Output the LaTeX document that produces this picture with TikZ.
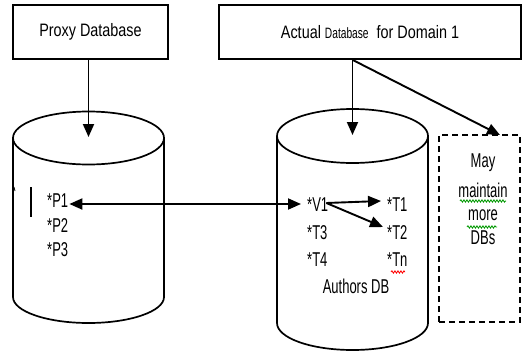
\documentclass[tikz,border=0pt]{standalone}
\usepackage{fontspec}
\setmainfont{Liberation Sans}
\usetikzlibrary{arrows.meta,decorations.pathmorphing,calc}
\newcommand{\nar}[1]{\scalebox{0.65}[1]{#1}}
\newcommand{\narb}[1]{\scalebox{0.8}[1]{#1}}
\begin{document}
\begin{tikzpicture}[x=1pt,y=-1pt,
  box/.style={draw, line width=1.7pt, inner sep=0pt, font=\fontsize{18}{18}\selectfont},
  dbox/.style={draw, line width=1.7pt, dash pattern=on 6pt off 4pt, inner sep=0pt},
  txt/.style={inner sep=0pt, font=\fontsize{20}{20}\selectfont, anchor=west},
  ctxt/.style={inner sep=0pt, font=\fontsize{20}{20}\selectfont},
  cyl/.style={line width=1.7pt},
  arr/.style={line width=1.9pt, -{Triangle[length=13pt,width=11pt]}},
  arrb/.style={line width=1.9pt, {Triangle[length=13pt,width=11pt]}-{Triangle[length=13pt,width=11pt]}},
  wavy/.style={decorate, decoration={snake, segment length=3pt, amplitude=1.2pt}, line width=0.8pt}
]
\useasboundingbox (0,0) rectangle (524,353);

% boxes
\node[box, minimum width=155pt, minimum height=54pt] (proxy) at (90.5,32) {\narb{Proxy Database}};
\node[box, minimum width=302pt, minimum height=54pt] (actual) at (370,32)
  {\narb{Actual {\fontsize{15}{15}\selectfont\scalebox{0.85}[1]{Database}}\ \ for Domain 1}};
\node[dbox, minimum width=81pt, minimum height=187pt] (more) at (479.5,228.5) {};

% left cylinder
\draw[cyl] (13,138) -- (13,297) arc[start angle=180, end angle=360, x radius=75.5pt, y radius=26pt] -- (164,138);
\draw[cyl] (88.5,138) ellipse[x radius=75.5pt, y radius=26.5pt];
\coordinate (ltop) at (88.5,137);

% right cylinder
\draw[cyl] (277,136) -- (277,323) arc[start angle=180, end angle=360, x radius=75.5pt, y radius=27pt] -- (428,136);
\draw[cyl] (352.5,136) ellipse[x radius=75.5pt, y radius=27pt];
\coordinate (rtop) at (352.5,135);
\coordinate (dtip) at (500,135);

% left db contents
\node[txt] (p1) at (47,201) {\nar{*P1}};
\node[txt] (p2) at (47,226) {\nar{*P2}};
\node[txt] (p3) at (47,250) {\nar{*P3}};
\draw[line width=2.8pt] (31,187) -- (31,217);
\draw[line width=0.8pt] (14,187) -- (15,191);

% right db contents
\node[txt] (v1) at (307,205) {\nar{*V1}};
\node[txt] (t1) at (387,205) {\nar{*T1}};
\node[txt] (t3) at (307,233) {\nar{*T3}};
\node[txt] (t2) at (387,233) {\nar{*T2}};
\node[txt] (t4) at (307,260) {\nar{*T4}};
\node[txt] (tn) at (387,260) {\nar{*Tn}};
\node[ctxt] (auth) at (356,286) {\nar{Authors DB}};

% dashed box text
\node[ctxt] (m1) at (483,163) {\nar{May}};
\node[ctxt] (m2) at (483,190) {\nar{maintain}};
\node[ctxt] (m3) at (483,215) {\nar{more}};
\node[ctxt] (m4) at (483,238) {\nar{DBs}};

% spell-check underlines
\draw[wavy, green!60!black] (460,201) -- (506,201);
\draw[wavy, green!60!black] (467,227) -- (497,227);
\draw[wavy, red] (391,272) -- (405,272);

% connectors
\draw[arr] (proxy.south -| ltop) -- (ltop);
\draw[arr] (actual.south -| rtop) -- (rtop);
\draw[arr] (actual.south -| rtop) -- (dtip);
\draw[arrb] ($(p1.east)+(1,3)$) -- ($(v1.west)+(-6,-1)$);
\draw[arr] ($(v1.east)+(-2,-2)$) -- ($(t1.west)+(-6,-4)$);
\draw[arr] ($(v1.east)+(-2,-2)$) -- ($(t2.west)+(-4,-6)$);
\end{tikzpicture}
\end{document}
